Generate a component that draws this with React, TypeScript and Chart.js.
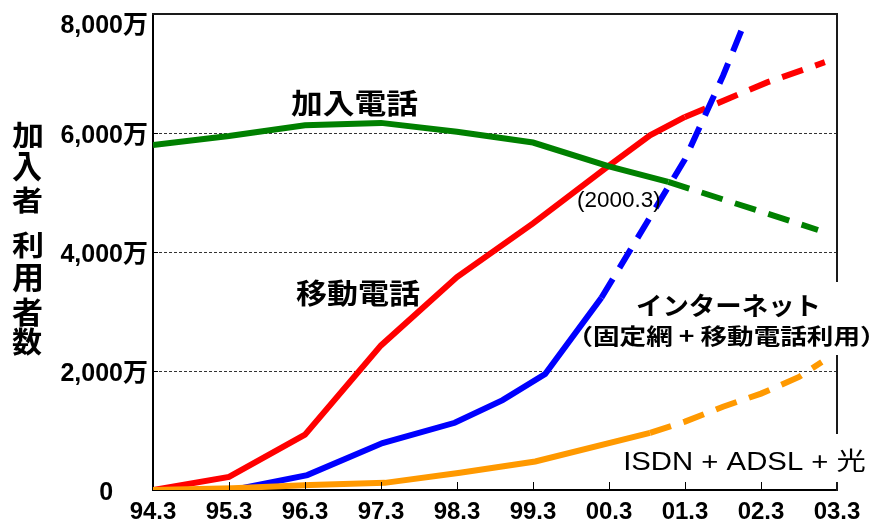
import React, { useEffect, useRef } from 'react';
import { Chart, registerables } from 'chart.js';

Chart.register(...registerables);

// ---- data ----
const categories = ['94.3', '95.3', '96.3', '97.3', '98.3', '99.3', '00.3', '01.3', '02.3', '03.3'];
const yTickValues = [0, 2000, 4000, 6000, 8000];

// 加入電話 (fixed line) – actual and projected
const fixedX = [0, 1, 2, 3, 4, 5, 6, 6.78];
const fixedY = [5800, 5950, 6130, 6170, 6020, 5840, 5440, 5180];
const fixedFcX = [6.78, 8.75];
const fixedFcY = [5180, 4370];

// 移動電話 (mobile)
const mobileX = [0, 1, 2, 3, 4, 5, 6, 6.54, 7];
const mobileY = [0, 220, 930, 2430, 3580, 4480, 5450, 5960, 6270];
const mobileFcX = [7, 8.08, 8.84];
const mobileFcY = [6270, 6850, 7190];

// インターネット
const netX = [1.05, 2.03, 3.02, 3.97, 4.6, 5.16, 5.9];
const netY = [0, 250, 790, 1130, 1510, 1950, 3230];
const netFcX = [5.9, 6.5, 7, 7.5, 7.76];
const netFcY = [3230, 4500, 5560, 6960, 7780];

// ISDN + ADSL + 光
const bbX = [0, 1.05, 2.07, 3.05, 4.04, 5.03, 6.54];
const bbY = [0, 30, 85, 120, 290, 480, 960];
const bbFcX = [6.54, 7, 7.5, 8, 8.5, 8.8];
const bbFcY = [960, 1150, 1400, 1620, 1900, 2150];

// ---- styling / layout ----
const GREEN = '#008000';
const RED = '#ff0000';
const BLUE = '#0000ff';
const ORANGE = '#ff9900';
const LATIN = "'Liberation Sans', Arial, 'Noto Sans CJK JP', sans-serif";
const CJK = "'Noto Sans CJK JP', 'Liberation Sans', sans-serif";
const DASH = [22, 13];

type Ann = { text: string; font: string; box: [number, number, number, number] };
const annotations: Ann[] = [
  { text: '加入電話', font: `bold 30px ${CJK}`, box: [291, 90, 418, 118] },
  { text: '移動電話', font: `bold 30px ${CJK}`, box: [296, 280, 420, 308] },
  { text: '(2000.3)', font: `23px ${LATIN}`, box: [578, 190, 660, 212] },
  { text: 'インターネット', font: `bold 26px ${CJK}`, box: [637, 293, 818, 318] },
  { text: '（固定網 + 移動電話利用）', font: `bold 24px ${CJK}`, box: [583, 325, 870, 348] },
  { text: 'ISDN + ADSL + 光', font: `32px ${LATIN}`, box: [625, 448, 865, 473] },
];
// gaps in the right frame line behind the labels
const frameGaps: [number, number][] = [
  [282, 355],
  [434, 482],
];
const yTitleChars: { ch: string; y0: number; y1: number }[] = [
  { ch: '加', y0: 122, y1: 150 },
  { ch: '入', y0: 152, y1: 182 },
  { ch: '者', y0: 187, y1: 215 },
  { ch: '利', y0: 232, y1: 260 },
  { ch: '用', y0: 263, y1: 293 },
  { ch: '者', y0: 297, y1: 327 },
  { ch: '数', y0: 328, y1: 357 },
];

const pts = (xs: number[], ys: number[]) => xs.map((x, i) => ({ x, y: ys[i] }));

function fitText(ctx: CanvasRenderingContext2D, text: string, font: string, x0: number, y0: number, x1: number, y1: number) {
  ctx.save();
  ctx.font = font;
  ctx.textAlign = 'left';
  ctx.textBaseline = 'alphabetic';
  const m = ctx.measureText(text);
  const inkL = -m.actualBoundingBoxLeft;
  const inkR = m.actualBoundingBoxRight;
  const inkT = -m.actualBoundingBoxAscent;
  const inkB = m.actualBoundingBoxDescent;
  const sx = (x1 - x0) / (inkR - inkL);
  const sy = (y1 - y0) / (inkB - inkT);
  ctx.translate(x0, y0);
  ctx.scale(sx, sy);
  ctx.fillStyle = '#000';
  ctx.fillText(text, -inkL, -inkT);
  ctx.restore();
}

const overlayPlugin = {
  id: 'overlay',
  afterDraw(chart: any) {
    const { ctx, chartArea, scales } = chart;
    const { left, right, top, bottom } = chartArea;
    ctx.save();
    // inner tick marks
    ctx.strokeStyle = '#000';
    ctx.lineWidth = 1;
    ctx.beginPath();
    for (let i = 1; i < categories.length - 1; i++) {
      const px = Math.round(scales.x.getPixelForValue(i)) + 0.5;
      ctx.moveTo(px, bottom);
      ctx.lineTo(px, bottom - 8);
    }
    yTickValues.slice(1, -1).forEach((v) => {
      const py = Math.round(scales.y.getPixelForValue(v)) + 0.5;
      ctx.moveTo(left, py);
      ctx.lineTo(left + 5, py);
    });
    ctx.stroke();
    // top and right frame (right side interrupted by labels)
    ctx.strokeStyle = '#1a1a1a';
    ctx.lineWidth = 2;
    ctx.beginPath();
    ctx.moveTo(left - 1, top);
    ctx.lineTo(right, top);
    frameGaps.forEach(([g0, g1]) => {
      ctx.lineTo(right, g0);
      ctx.moveTo(right, g1);
    });
    ctx.lineTo(right, bottom + 1);
    ctx.stroke();
    ctx.restore();
    annotations.forEach((a) => fitText(ctx, a.text, a.font, a.box[0], a.box[1], a.box[2], a.box[3]));
    yTitleChars.forEach((c) => fitText(ctx, c.ch, `bold 30px ${CJK}`, 12, c.y0, 42, c.y1));
  },
};

function line(data: { x: number; y: number }[], color: string, dashed: boolean, order: number) {
  return {
    data,
    borderColor: color,
    backgroundColor: color,
    borderWidth: 6,
    borderDash: dashed ? DASH : [],
    borderCapStyle: 'butt',
    borderJoinStyle: 'miter',
    pointRadius: 0,
    tension: 0,
    fill: false,
    order,
  };
}

export default function App() {
  const ref = useRef<HTMLCanvasElement | null>(null);
  useEffect(() => {
    if (!ref.current) return;
    const chart = new Chart(ref.current, {
      type: 'line',
      data: {
        datasets: [
          line(pts(bbX, bbY), ORANGE, false, 0),
          line(pts(bbFcX, bbFcY), ORANGE, true, 0),
          line(pts(netX, netY), BLUE, false, 1),
          line(pts(netFcX, netFcY), BLUE, true, 1),
          line(pts(fixedX, fixedY), GREEN, false, 2),
          line(pts(fixedFcX, fixedFcY), GREEN, true, 2),
          line(pts(mobileX, mobileY), RED, false, 3),
          line(pts(mobileFcX, mobileFcY), RED, true, 3),
        ] as any,
      },
      options: {
        responsive: false,
        animation: false,
        devicePixelRatio: 1,
        layout: { padding: { left: 0, top: 14, right: 36, bottom: 0 } },
        plugins: { legend: { display: false }, tooltip: { enabled: false }, title: { display: false } },
        scales: {
          x: {
            type: 'linear',
            min: 0,
            max: categories.length - 1,
            afterFit: (s: any) => { s.height = 34; s.paddingLeft = 0; s.paddingRight = 0; },
            afterBuildTicks: (s: any) => { s.ticks = categories.map((_, i) => ({ value: i })); },
            ticks: {
              autoSkip: false,
              maxRotation: 0,
              padding: 8,
              color: '#000',
              font: { family: LATIN, size: 24, weight: 'bold' },
              callback: (v: any) => categories[v] ?? '',
            },
            grid: { display: false, drawTicks: false },
            border: { display: true, width: 2, color: '#000' },
          },
          y: {
            min: 0,
            max: 8000,
            afterFit: (s: any) => { s.width = 153; s.paddingTop = 0; s.paddingBottom = 0; },
            afterBuildTicks: (s: any) => { s.ticks = yTickValues.map((v) => ({ value: v })); },
            ticks: {
              padding: 5,
              labelOffset: 3,
              color: '#000',
              font: { family: LATIN, size: 25, weight: 'bold', lineHeight: '18px' },
              callback: (v: any) => {
                if (v === 0) return '0     ';
                const s = `${Number(v).toLocaleString('en-US')}万`;
                return v === 8000 ? ['', s] : s;
              },
            },
            grid: {
              drawTicks: false,
              lineWidth: 1,
              color: (c: any) => (c.tick && (c.tick.value === 0 || c.tick.value === 8000) ? 'rgba(0,0,0,0)' : '#333'),
            },
            border: { display: true, width: 2, color: '#000', dash: [3, 2] },
          },
        },
      } as any,
      plugins: [overlayPlugin],
    });
    return () => chart.destroy();
  }, []);
  return (
    <div style={{ position: 'fixed', left: 0, top: 0, width: 873, height: 524, background: '#fff' }}>
      <canvas ref={ref} width={873} height={524} style={{ width: 873, height: 524, display: 'block' }} />
    </div>
  );
}
